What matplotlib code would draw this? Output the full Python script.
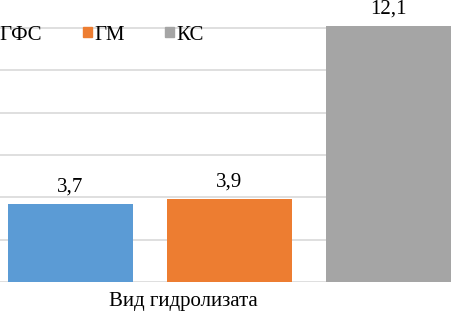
import matplotlib.pyplot as plt
from matplotlib.patches import Patch

categories = ['ГФС', 'ГМ', 'КС']
values = [3.7, 3.9, 12.1]
value_labels = ['3,7', '3,9', '12,1']
colors = ['#5B9BD5', '#ED7D31', '#A5A5A5']
x_title = 'Вид гидролизата'

W, H = 451, 311
plt.rcParams['font.family'] = ['Liberation Serif', 'DejaVu Serif']

fig = plt.figure(figsize=(W / 100, H / 100), dpi=100)

# axes cropped on left, right and top like the reference
unit_x = 159.0
unit_y = 21.17
x0_px = 70.5
base_px = 282
xlim = (-0.5, 2.5)
ylim = (0, 14)
left = (x0_px + xlim[0] * unit_x) / W
width = (xlim[1] - xlim[0]) * unit_x / W
bottom = (H - base_px) / H
height = (ylim[1] - ylim[0]) * unit_y / H
ax = fig.add_axes([left, bottom, width, height])
ax.set_xlim(*xlim)
ax.set_ylim(*ylim)

for i, (cat, val, col) in enumerate(zip(categories, values, colors)):
    ax.bar(i, val, width=0.786, color=col, label=cat, zorder=2)
    ax.annotate(value_labels[i], (i, val), xytext=(0, 9), textcoords='offset points',
                ha='center', va='baseline', fontsize=15)

ax.set_yticks(range(0, 15, 2))
ax.yaxis.grid(True, color='#D9D9D9', linewidth=1.2, zorder=0)
ax.tick_params(left=False, bottom=False, labelleft=False, labelbottom=False)
for s in ax.spines.values():
    s.set_visible(False)

handles = [Patch(color=c) for c in colors]
fig.legend(handles, categories, loc='center left', bbox_to_anchor=(-11.5 / W, 1 - 35 / H),
           ncol=3, frameon=False, fontsize=15, handlelength=0.42, handleheight=0.42,
           handletextpad=0.12, columnspacing=1.95, borderpad=0, borderaxespad=0)

fig.text(183 / W, 1 - 306 / H, x_title, ha='center', va='baseline', fontsize=15)

fig.savefig('out.png', dpi=100)
